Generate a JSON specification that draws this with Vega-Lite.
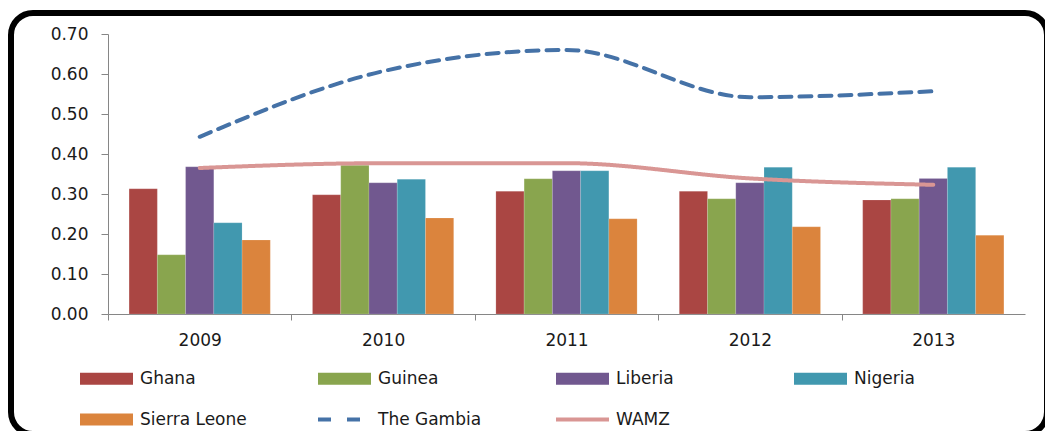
{
  "$schema": "https://vega.github.io/schema/vega-lite/v6.json",
  "autosize": {"type": "none"},
  "padding": {"left": 11, "top": 13, "right": 0, "bottom": 0},
  "width": 1036,
  "height": 421,
  "background": "white",
  "config": {
    "view": {"stroke": "black", "strokeWidth": 6, "cornerRadius": 22, "fill": "white"},
    "font": "DejaVu Sans",
    "axis": {"labelFont": "DejaVu Sans", "labelFontSize": 17, "labelColor": "#1a1a1a", "domainColor": "#868686", "tickColor": "#868686", "grid": false, "title": null}
  },
  "data": {
    "values": [
      {"year": "2009", "series": "Ghana", "value": 0.313},
      {"year": "2009", "series": "Guinea", "value": 0.148},
      {"year": "2009", "series": "Liberia", "value": 0.368},
      {"year": "2009", "series": "Nigeria", "value": 0.228},
      {"year": "2009", "series": "Sierra Leone", "value": 0.185},
      {"year": "2009", "series": "The Gambia", "value": 0.443},
      {"year": "2009", "series": "WAMZ", "value": 0.365},
      {"year": "2010", "series": "Ghana", "value": 0.298},
      {"year": "2010", "series": "Guinea", "value": 0.372},
      {"year": "2010", "series": "Liberia", "value": 0.328},
      {"year": "2010", "series": "Nigeria", "value": 0.337},
      {"year": "2010", "series": "Sierra Leone", "value": 0.24},
      {"year": "2010", "series": "The Gambia", "value": 0.607},
      {"year": "2010", "series": "WAMZ", "value": 0.377},
      {"year": "2011", "series": "Ghana", "value": 0.307},
      {"year": "2011", "series": "Guinea", "value": 0.338},
      {"year": "2011", "series": "Liberia", "value": 0.358},
      {"year": "2011", "series": "Nigeria", "value": 0.358},
      {"year": "2011", "series": "Sierra Leone", "value": 0.238},
      {"year": "2011", "series": "The Gambia", "value": 0.66},
      {"year": "2011", "series": "WAMZ", "value": 0.377},
      {"year": "2012", "series": "Ghana", "value": 0.307},
      {"year": "2012", "series": "Guinea", "value": 0.288},
      {"year": "2012", "series": "Liberia", "value": 0.328},
      {"year": "2012", "series": "Nigeria", "value": 0.367},
      {"year": "2012", "series": "Sierra Leone", "value": 0.218},
      {"year": "2012", "series": "The Gambia", "value": 0.542},
      {"year": "2012", "series": "WAMZ", "value": 0.339},
      {"year": "2013", "series": "Ghana", "value": 0.285},
      {"year": "2013", "series": "Guinea", "value": 0.288},
      {"year": "2013", "series": "Liberia", "value": 0.339},
      {"year": "2013", "series": "Nigeria", "value": 0.367},
      {"year": "2013", "series": "Sierra Leone", "value": 0.197},
      {"year": "2013", "series": "The Gambia", "value": 0.557},
      {"year": "2013", "series": "WAMZ", "value": 0.323}
    ]
  },
  "encoding": {
    "x": {
      "field": "year", "type": "nominal",
      "scale": {"range": [97, 1014], "paddingInner": 0.23, "paddingOuter": 0.115},
      "axis": {"labelAngle": 0, "offset": -120, "tickSize": 6, "tickOffset": -91.7, "labelOffset": 91.7, "labelPadding": 12, "domainColor": "#868686"}
    },
    "y": {
      "field": "value", "type": "quantitative",
      "scale": {"domain": [0, 0.7], "range": [301, 21], "nice": false, "zero": true},
      "axis": {"values": [0, 0.1, 0.2, 0.3, 0.4, 0.5, 0.6, 0.7], "format": ".2f", "offset": -97, "tickSize": 7, "labelPadding": 13}
    },
    "color": {
      "field": "series", "type": "nominal",
      "scale": {
        "domain": ["Ghana", "Guinea", "Liberia", "Nigeria", "Sierra Leone", "The Gambia", "WAMZ"],
        "range": ["#AA4643", "#89A54E", "#71588F", "#4198AF", "#DB843D", "#4572A7", "#D99694"]
      },
      "legend": {
        "orient": "none",
        "direction": "horizontal",
        "legendX": 67,
        "legendY": 337,
        "columns": 4,
        "gridAlign": "all",
        "columnPadding": 63,
        "rowPadding": -21,
        "padding": 0,
        "title": null,
        "symbolSize": 2809,
        "symbolStrokeWidth": 4,
        "labelFont": "DejaVu Sans",
        "labelFontSize": 17,
        "labelColor": "#1a1a1a",
        "labelOffset": 5,
        "labelLimit": 300,
        "encode": {
          "symbols": {
            "update": {
              "shape": {"signal": "(datum.value == 'The Gambia' || datum.value == 'WAMZ') ? 'stroke' : 'M-0.925,-0.151H0.925V0.151H-0.925Z'"},
              "fill": {"signal": "(datum.value == 'The Gambia' || datum.value == 'WAMZ') ? 'transparent' : scale('color', datum.value)"},
              "stroke": {"signal": "scale('color', datum.value)"},
              "strokeDash": {"signal": "datum.value == 'The Gambia' ? [13, 16] : [1, 0]"},
              "opacity": {"value": 1}
            }
          }
        }
      }
    }
  },
  "layer": [
    {
      "transform": [{"filter": {"field": "series", "oneOf": ["Ghana", "Guinea", "Liberia", "Nigeria", "Sierra Leone"]}}],
      "mark": {"type": "bar", "stroke": "#ffffff", "strokeOpacity": 0.3, "strokeWidth": 0.5},
      "encoding": {
        "xOffset": {"field": "series", "type": "nominal", "sort": ["Ghana", "Guinea", "Liberia", "Nigeria", "Sierra Leone"]}
      }
    },
    {
      "transform": [{"filter": {"field": "series", "oneOf": ["The Gambia", "WAMZ"]}}],
      "mark": {"type": "line", "strokeWidth": 4, "interpolate": "monotone", "strokeCap": "round"},
      "encoding": {
        "strokeDash": {
          "field": "series", "type": "nominal",
          "scale": {"domain": ["The Gambia", "WAMZ"], "range": [[12, 8], [1, 0]]},
          "legend": null
        }
      }
    }
  ]
}
